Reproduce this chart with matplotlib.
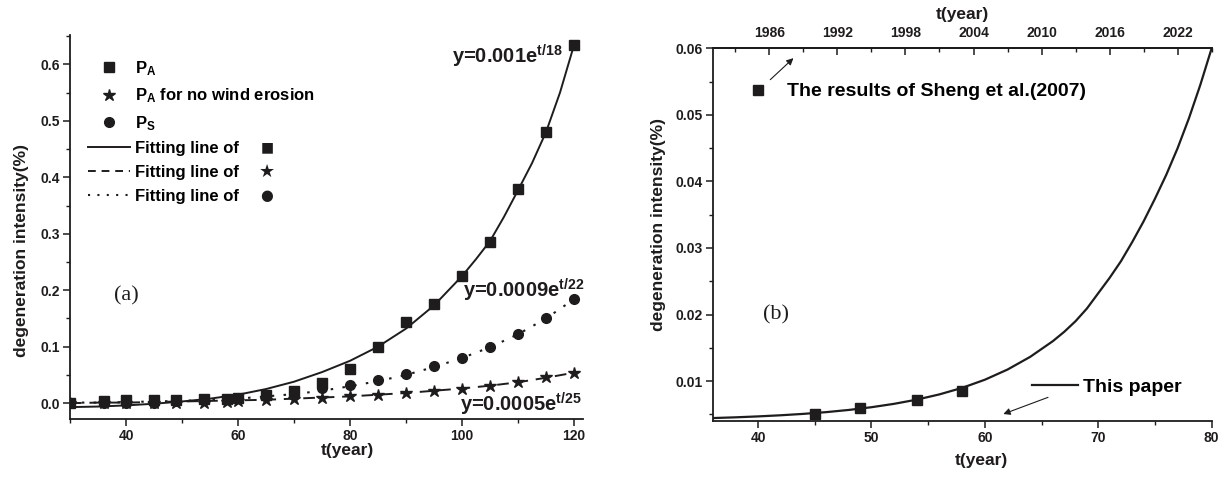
import matplotlib
matplotlib.use('Agg')
import matplotlib.pyplot as plt
from matplotlib.ticker import MultipleLocator, FixedLocator, FormatStrFormatter
from matplotlib.font_manager import FontProperties
from matplotlib.lines import Line2D

plt.rcParams['font.family'] = ['Liberation Sans', 'DejaVu Sans']
plt.rcParams['font.weight'] = 'bold'
plt.rcParams['mathtext.fontset'] = 'custom'
plt.rcParams['mathtext.rm'] = 'Liberation Sans:bold'
plt.rcParams['mathtext.it'] = 'Liberation Sans:bold'
plt.rcParams['mathtext.bf'] = 'Liberation Sans:bold'

INK = '#1e1c1d'

# ---------------- Panel (a) data ----------------
t_obs = [30, 36, 40, 45, 49, 54, 58, 60, 65, 70, 75, 80, 85, 90, 95, 100, 105, 110, 115, 120]
pa = [0.001, 0.004, 0.005, 0.005, 0.006, 0.007, 0.008, 0.010, 0.015, 0.022, 0.036, 0.060,
      0.100, 0.143, 0.176, 0.225, 0.286, 0.380, 0.481, 0.634]
pa_nowind = [0.000, 0.000, 0.000, 0.000, 0.001, 0.001, 0.002, 0.003, 0.005, 0.007, 0.009, 0.012,
             0.015, 0.018, 0.021, 0.025, 0.031, 0.037, 0.046, 0.054]
ps = [0.000, 0.000, 0.001, 0.001, 0.003, 0.005, 0.008, 0.009, 0.013, 0.019, 0.026, 0.032,
      0.041, 0.052, 0.065, 0.080, 0.099, 0.122, 0.150, 0.184]

t_fit_pa = [30, 35, 40, 45, 50, 55, 60, 65, 70, 75, 80, 85, 90, 95, 100, 102.5, 105, 107.5,
            110, 112.5, 115, 117.5, 120]
fit_pa = [-0.007, -0.006, -0.004, -0.001, 0.003, 0.008, 0.015, 0.025, 0.038, 0.055, 0.075,
          0.100, 0.132, 0.173, 0.225, 0.255, 0.287, 0.330, 0.377, 0.425, 0.480, 0.550, 0.634]
t_fit = [30, 35, 40, 45, 50, 55, 60, 65, 70, 75, 80, 85, 90, 95, 100, 105, 110, 115, 120]
fit_nowind = [0.000, 0.001, 0.001, 0.002, 0.003, 0.004, 0.005, 0.006, 0.008, 0.010, 0.012,
              0.015, 0.018, 0.022, 0.026, 0.031, 0.037, 0.045, 0.054]
fit_ps = [0.001, 0.001, 0.002, 0.003, 0.004, 0.006, 0.008, 0.012, 0.016, 0.022, 0.030,
          0.039, 0.050, 0.064, 0.080, 0.099, 0.122, 0.150, 0.184]

a_xticks = [40, 60, 80, 100, 120]
a_yticks = [0.0, 0.1, 0.2, 0.3, 0.4, 0.5, 0.6]

# ---------------- Panel (b) data ----------------
t_sheng = [45, 49, 54, 58]
sheng = [0.0050, 0.0059, 0.0072, 0.0085]
t_paper = [36, 38, 40, 42, 44, 46, 48, 50, 52, 54, 56, 58, 60, 62, 64, 66, 67, 68, 69, 70,
           71, 72, 73, 74, 75, 76, 77, 78, 79, 80]
paper = [0.00444, 0.00455, 0.00469, 0.00486, 0.00507, 0.00533, 0.00566, 0.00607, 0.00658,
         0.00721, 0.00800, 0.00898, 0.01020, 0.01173, 0.01364, 0.01600, 0.01740, 0.01900,
         0.02090, 0.02320, 0.02550, 0.02800, 0.03090, 0.03400, 0.03740, 0.04100, 0.04500,
         0.04950, 0.05450, 0.06000]
b_xticks = [40, 50, 60, 70, 80]
b_yticks = [0.01, 0.02, 0.03, 0.04, 0.05, 0.06]
year_offset = 1945
year_ticks = [1986, 1992, 1998, 2004, 2010, 2016, 2022]

fig = plt.figure(figsize=(12.26, 4.79), dpi=100)

def style_axis(ax):
    ax.tick_params(which='major', direction='out', length=5, width=1.1, colors=INK,
                   labelsize=10, pad=2.5)
    ax.tick_params(which='minor', direction='out', length=3, width=1.0, colors=INK)
    for lab in ax.get_xticklabels() + ax.get_yticklabels():
        lab.set_fontweight('bold')
    for s in ax.spines.values():
        s.set_linewidth(1.3)
        s.set_color(INK)

# ================= Panel (a) =================
ax1 = fig.add_axes([0.0571, 0.1253, 0.4184, 0.8017])
ax1.set_xlim(30, 121.6)
ax1.set_ylim(-0.028, 0.652)
ax1.spines['top'].set_visible(False)
ax1.spines['right'].set_visible(False)
ax1.xaxis.set_major_locator(FixedLocator(a_xticks))
ax1.xaxis.set_minor_locator(MultipleLocator(10))
ax1.yaxis.set_major_locator(FixedLocator(a_yticks))
ax1.yaxis.set_minor_locator(MultipleLocator(0.05))
ax1.yaxis.set_major_formatter(FormatStrFormatter('%.1f'))
style_axis(ax1)

ax1.plot(t_fit_pa, fit_pa, '-', color=INK, lw=1.4)
ax1.plot(t_fit, fit_nowind, color=INK, lw=1.4, linestyle=(0, (6, 4)))
ax1.plot(t_fit, fit_ps, color=INK, lw=1.5, linestyle=(0, (1.2, 4.5)))
ax1.plot(t_obs, pa, 's', color=INK, ms=6.5, ls='none')
ax1.plot(t_obs, pa_nowind, '*', color=INK, ms=9, ls='none')
ax1.plot(t_obs, ps, 'o', color=INK, ms=7, ls='none')

handles = [
    Line2D([], [], marker='s', color=INK, ls='none', ms=6.5),
    Line2D([], [], marker='*', color=INK, ls='none', ms=9),
    Line2D([], [], marker='o', color=INK, ls='none', ms=7),
    Line2D([], [], color=INK, lw=1.4),
    Line2D([], [], color=INK, lw=1.4, linestyle=(0, (4, 3))),
    Line2D([], [], color=INK, lw=1.5, linestyle=(0, (1, 3.5))),
]
labels = [r'P$_\mathrm{A}$', r'P$_\mathrm{A}$ for no wind erosion', r'P$_\mathrm{S}$',
          'Fitting line of', 'Fitting line of', 'Fitting line of']
glyphs = ['\u25A0', '\u2605', '\u25CF']
glyph_sizes = [10, 13, 10.5]
leg_font = FontProperties(family=['Liberation Sans', 'DejaVu Sans'], weight='bold', size=12)
leg = ax1.legend(handles, labels, loc='upper left', bbox_to_anchor=(0.035, 0.937),
                 frameon=False, prop=leg_font, handlelength=2.5, handletextpad=0.3,
                 labelspacing=0.52, borderpad=0, borderaxespad=0)

ax1.text(452, 479 - 63, r'y=0.001e$^\mathrm{t/18}$', transform=None, fontsize=14.5,
         fontweight='bold', color=INK, va='baseline', ha='left')
ax1.text(463, 479 - 297, r'y=0.0009e$^\mathrm{t/22}$', transform=None, fontsize=14.5,
         fontweight='bold', color=INK, va='baseline', ha='left')
ax1.text(460, 479 - 412, r'y=0.0005e$^\mathrm{t/25}$', transform=None, fontsize=14.5,
         fontweight='bold', color=INK, va='baseline', ha='left')
ax1.text(0.085, 0.32, '(a)', transform=ax1.transAxes, fontsize=16, fontweight='normal',
         family='Liberation Serif', color=INK, va='center', ha='left')

ax1.set_xlabel('t(year)', fontsize=12.5, fontweight='bold', color=INK)
ax1.xaxis.set_label_coords(0.54, -0.062)
ax1.set_ylabel('degeneration intensity(%)', fontsize=12.5, fontweight='bold', color=INK)
ax1.yaxis.set_label_coords(-0.08, 0.4375)

# ================= Panel (b) =================
ax2 = fig.add_axes([0.5813, 0.1211, 0.407, 0.7781])
ax2.set_xlim(36, 80)
ax2.set_ylim(0.004, 0.06)
ax2.spines['right'].set_visible(False)
ax2.xaxis.set_major_locator(FixedLocator(b_xticks))
ax2.xaxis.set_minor_locator(MultipleLocator(5))
ax2.yaxis.set_major_locator(FixedLocator(b_yticks))
ax2.yaxis.set_minor_locator(MultipleLocator(0.005))
ax2.yaxis.set_major_formatter(FormatStrFormatter('%.2f'))
style_axis(ax2)

ax2.plot(t_paper, paper, '-', color=INK, lw=1.6)
ax2.plot(t_sheng, sheng, 's', color=INK, ms=7, ls='none')

sec = ax2.secondary_xaxis('top', functions=(lambda t: t + year_offset, lambda y: y - year_offset))
sec.xaxis.set_major_locator(FixedLocator(year_ticks))
sec.xaxis.set_minor_locator(MultipleLocator(3))
sec.tick_params(which='major', direction='in', length=5, width=1.1, colors=INK,
                labelsize=10, pad=6)
sec.tick_params(which='minor', direction='in', length=3, width=1.0, colors=INK)
for lab in sec.get_xticklabels():
    lab.set_fontweight('bold')
sec.spines['top'].set_linewidth(1.3)
sec.set_xlabel('t(year)', fontsize=12.5, fontweight='bold', color=INK, labelpad=5)

leg_font_b = FontProperties(family=['Liberation Sans', 'DejaVu Sans'], weight='bold', size=14)
leg_b1 = ax2.legend([Line2D([], [], marker='s', color=INK, ls='none', ms=7)],
                    ['The results of Sheng et al.(2007)'], loc='center left',
                    bbox_to_anchor=(0.072, 0.884), frameon=False, prop=leg_font_b,
                    handlelength=1.0, handletextpad=1.0, borderpad=0, borderaxespad=0)
ax2.add_artist(leg_b1)
ax2.legend([Line2D([], [], color=INK, lw=1.6)], ['This paper'], loc='center left',
           bbox_to_anchor=(0.639, 0.092), frameon=False, prop=leg_font_b,
           handlelength=2.37, handletextpad=0.3, borderpad=0, borderaxespad=0)

ax2.annotate('', xy=(43.3, 0.0588), xytext=(40.9, 0.0550),
             arrowprops=dict(arrowstyle='-|>', color=INK, lw=0.8, mutation_scale=10))
ax2.annotate('', xy=(61.4, 0.0049), xytext=(65.8, 0.0077),
             arrowprops=dict(arrowstyle='-|>', color=INK, lw=0.8, mutation_scale=10))

ax2.text(0.1, 0.284, '(b)', transform=ax2.transAxes, fontsize=16, fontweight='normal',
         family='Liberation Serif', color=INK, va='center', ha='left')

ax2.set_xlabel('t(year)', fontsize=12.5, fontweight='bold', color=INK)
ax2.xaxis.set_label_coords(0.538, -0.085)
ax2.set_ylabel('degeneration intensity(%)', fontsize=12.5, fontweight='bold', color=INK)
ax2.yaxis.set_label_coords(-0.094, 0.526)

# marker symbols that follow the "Fitting line of" legend entries
fig.canvas.draw()
renderer = fig.canvas.get_renderer()
for txt, g, gs in zip(leg.get_texts()[3:], glyphs, glyph_sizes):
    bb = txt.get_window_extent(renderer)
    fig.text(267 / 1226, (bb.y0 + bb.y1) / 2 / 479 + 1 / 479, g, fontsize=gs,
             family='DejaVu Sans', color=INK, ha='center', va='center')

fig.savefig('out.png', dpi=100)
